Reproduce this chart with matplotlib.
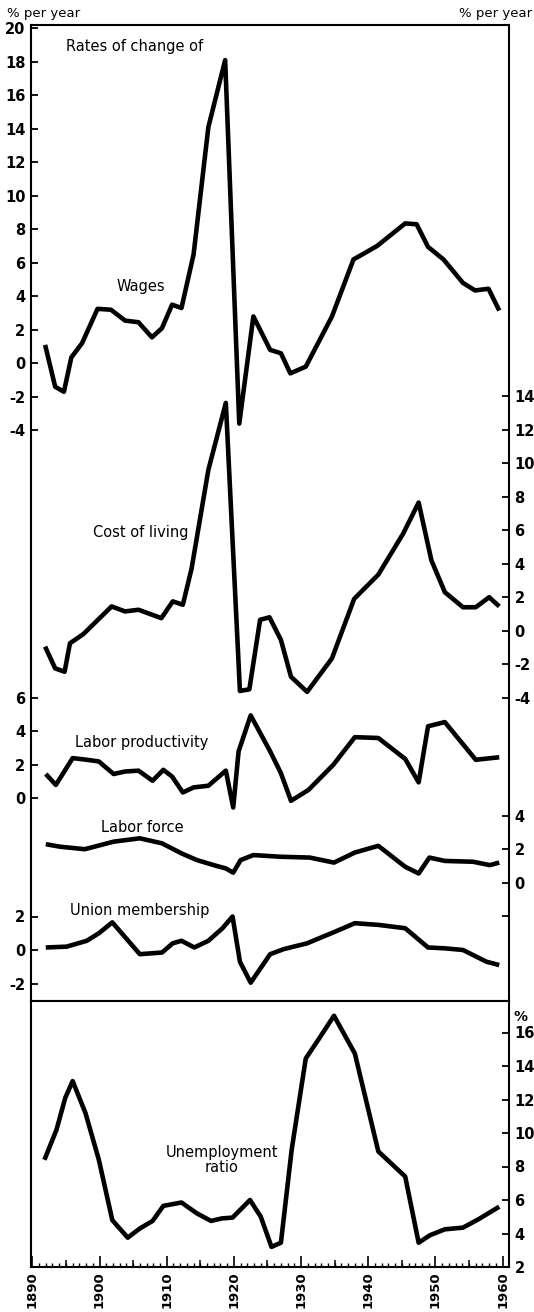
import matplotlib
matplotlib.use("Agg")
import matplotlib.pyplot as plt
from matplotlib.ticker import FixedLocator, MultipleLocator

plt.rcParams["font.family"] = ["DejaVu Sans"]
plt.rcParams["axes.unicode_minus"] = False

# ---------------------------------------------------------------- data
wage_years = [1891.9, 1893.4, 1894.7, 1895.8, 1897.4, 1899.7, 1901.7, 1903.8,
              1905.8, 1907.8, 1909.3, 1910.8, 1912.2, 1914.0, 1916.2, 1918.7,
              1920.8, 1922.9, 1925.4, 1927.0, 1928.4, 1930.7, 1934.6, 1937.8,
              1941.3, 1945.5, 1947.2, 1948.9, 1951.2, 1954.1, 1955.9, 1957.9,
              1959.5]
wage_vals = [1.1, -1.4, -1.7, 0.35, 1.2, 3.25, 3.2, 2.55, 2.45, 1.55, 2.1, 3.5,
             3.3, 6.5, 14.1, 18.1, -3.6, 2.8, 0.8, 0.6, -0.6, -0.2, 2.8, 6.2,
             7.0, 8.35, 8.3, 6.95, 6.2, 4.8, 4.35, 4.45, 3.15]

col_years = [1891.9, 1893.4, 1894.8, 1895.6, 1897.6, 1901.8, 1903.8, 1905.8,
             1909.2, 1910.9, 1912.4, 1913.7, 1916.2, 1918.8, 1920.9, 1922.3,
             1923.9, 1925.3, 1927.0, 1928.5, 1930.9, 1934.6, 1937.9, 1941.5,
             1945.2, 1947.5, 1949.4, 1951.4, 1954.1, 1956.0, 1958.0, 1959.5]
col_vals = [-0.95, -2.25, -2.45, -0.75, -0.2, 1.45, 1.15, 1.25, 0.75, 1.75,
            1.55, 3.7, 9.6, 13.6, -3.6, -3.5, 0.65, 0.8, -0.55, -2.75, -3.65,
            -1.65, 1.9, 3.35, 5.8, 7.65, 4.2, 2.3, 1.4, 1.4, 2.0, 1.45]

prod_years = [1892.0, 1893.5, 1896.0, 1898.1, 1899.9, 1902.1, 1903.8, 1905.8,
              1907.9, 1909.5, 1910.8, 1912.4, 1914.0, 1916.2, 1918.8, 1919.9,
              1920.7, 1922.5, 1925.4, 1927.0, 1928.5, 1931.1, 1934.8, 1938.0,
              1941.5, 1945.5, 1947.5, 1948.9, 1951.4, 1956.0, 1959.5]
prod_vals = [1.45, 0.8, 2.4, 2.3, 2.2, 1.45, 1.6, 1.65, 1.05, 1.7, 1.3, 0.35,
             0.65, 0.75, 1.65, -0.55, 2.8, 4.95, 2.8, 1.5, -0.15, 0.5, 2.0,
             3.65, 3.6, 2.35, 0.95, 4.3, 4.55, 2.3, 2.45]

force_years = [1892.0, 1894.1, 1897.8, 1902.1, 1906.0, 1909.3, 1912.2, 1914.5,
               1917.0, 1918.8, 1919.9, 1921.0, 1922.9, 1926.9, 1931.3, 1934.9,
               1938.0, 1941.5, 1945.5, 1947.5, 1949.1, 1951.4, 1955.6, 1958.1,
               1959.5]
force_vals = [2.3, 2.15, 2.0, 2.45, 2.65, 2.35, 1.75, 1.35, 1.05, 0.85, 0.6,
              1.35, 1.65, 1.55, 1.5, 1.2, 1.8, 2.2, 0.95, 0.55, 1.5, 1.3, 1.25,
              1.05, 1.2]

union_years = [1892.0, 1895.1, 1898.1, 1899.9, 1901.9, 1906.0, 1909.3, 1910.9,
               1912.2, 1914.1, 1916.2, 1918.3, 1919.8, 1920.9, 1922.5, 1925.4,
               1927.4, 1930.9, 1935.1, 1938.0, 1941.5, 1945.5, 1948.9, 1951.4,
               1954.1, 1957.6, 1959.5]
union_vals = [0.15, 0.2, 0.55, 1.0, 1.65, -0.25, -0.15, 0.4, 0.55, 0.15, 0.55,
              1.3, 2.0, -0.7, -1.95, -0.25, 0.05, 0.4, 1.1, 1.6, 1.5, 1.3, 0.15,
              0.1, 0.0, -0.7, -0.9]

unemp_years = [1891.8, 1893.6, 1894.9, 1896.0, 1897.9, 1899.9, 1901.9, 1904.2,
               1906.0, 1907.9, 1909.5, 1912.2, 1914.5, 1916.6, 1918.2, 1919.8,
               1922.4, 1924.0, 1925.6, 1927.0, 1928.6, 1930.7, 1932.7, 1934.9,
               1938.0, 1941.5, 1945.5, 1947.5, 1949.2, 1951.4, 1954.1, 1956.4,
               1959.5]
unemp_vals = [8.4, 10.2, 12.1, 13.1, 11.2, 8.4, 4.8, 3.75, 4.3, 4.75, 5.65,
              5.85, 5.2, 4.75, 4.9, 4.95, 6.0, 5.0, 3.2, 3.45, 9.0, 14.45,
              15.65, 17.0, 14.75, 8.9, 7.4, 3.45, 3.9, 4.25, 4.35, 4.85, 5.6]

# ---------------------------------------------------------------- layout (pixels)
W, H = 534, 1312
PX = 16.75            # pixels per percentage point, same in every panel
LEFT, RIGHT = 31, 509
TOP, MID, BOTTOM = 25, 1000.7, 1267
XLIM = (1889.8, 1960.95)

LW = 3.3
TICK = dict(direction="in", length=5, width=1.3, labelsize=10.5, pad=4)


def rect(top, bottom):
    return [LEFT / W, 1 - bottom / H, (RIGHT - LEFT) / W, (bottom - top) / H]


def lims(zero_px, zero_val=0.0):
    # y-limits so that zero_val lands on pixel row zero_px in the top panel
    return (zero_val - (MID - zero_px) / PX, zero_val + (zero_px - TOP) / PX)


fig = plt.figure(figsize=(W / 100, H / 100), dpi=100)
fig.patch.set_facecolor("white")

top_rect = rect(TOP, MID)


def overlay(side, ticks, ylim, years, vals, labels=True, frame=False):
    ax = fig.add_axes(top_rect, frameon=frame)
    ax.patch.set_alpha(0)
    ax.plot(years, vals, color="black", lw=LW,
            solid_joinstyle="round", solid_capstyle="butt")
    ax.set_xlim(*XLIM)
    ax.set_ylim(*ylim)
    ax.yaxis.set_major_locator(FixedLocator(ticks))
    if labels is not True:
        ax.set_yticklabels(labels)
    if side == "right":
        ax.yaxis.tick_right()
    else:
        ax.yaxis.tick_left()
    ax.tick_params(axis="y", **TICK)
    for lab in ax.get_yticklabels():
        lab.set_fontweight("bold")
    ax.tick_params(axis="x", which="both", bottom=False, top=False,
                   labelbottom=False)
    return ax


ax_w = overlay("left", list(range(-4, 21, 2)), lims(363.3),
               wage_years, wage_vals, frame=True)
for sp in ax_w.spines.values():
    sp.set_linewidth(1.5)
overlay("right", list(range(-4, 15, 2)), lims(630.7), col_years, col_vals)
overlay("left", [0, 2, 4, 6], lims(798.3), prod_years, prod_vals)
overlay("right", [-2, 0, 2, 4], lims(882.7), force_years, force_vals,
        labels=["", "0", "2", "4"])
overlay("left", [-2, 0, 2], lims(950.0), union_years, union_vals)

# ---------------------------------------------------------------- unemployment panel
ax_u = fig.add_axes(rect(MID, BOTTOM))
ax_u.plot(unemp_years, unemp_vals, color="black", lw=LW,
          solid_joinstyle="round", solid_capstyle="butt")
ax_u.set_xlim(*XLIM)
ax_u.set_ylim(2, 2 + (BOTTOM - MID) / PX)
for sp in ax_u.spines.values():
    sp.set_linewidth(1.5)
ax_u.yaxis.tick_right()
ax_u.yaxis.set_major_locator(FixedLocator(list(range(2, 17, 2))))
ax_u.tick_params(axis="y", **TICK)
for lab in ax_u.get_yticklabels():
    lab.set_fontweight("bold")

ax_u.xaxis.set_major_locator(MultipleLocator(10))
ax_u.xaxis.set_minor_locator(MultipleLocator(1))
ax_u.tick_params(axis="x", which="major", direction="in", length=8, width=1.2,
                 labelsize=9.5, pad=3, labelrotation=90)
ax_u.tick_params(axis="x", which="minor", direction="in", length=3, width=1.0)
for lab in ax_u.get_xticklabels():
    lab.set_fontweight("bold")

# half-decade ticks, medium length
sec = ax_u.secondary_xaxis("bottom")
sec.set_xticks([1895, 1905, 1915, 1925, 1935, 1945, 1955])
sec.tick_params(axis="x", direction="in", length=5, width=1.1,
                labelbottom=False)
sec.spines["bottom"].set_visible(False)


# ---------------------------------------------------------------- text
def put(x, y, s, **kw):
    kw.setdefault("ha", "center")
    kw.setdefault("va", "center")
    kw.setdefault("fontsize", 10.5)
    fig.text(x / W, 1 - y / H, s, **kw)


put(7, 13, "% per year", ha="left", fontsize=9.5)
put(532, 14, "% per year", ha="right", fontsize=9.5)
put(135, 46, "Rates of change of")
put(141, 287, "Wages")
put(141, 533, "Cost of living")
put(141.5, 743, "Labor productivity")
put(142, 827, "Labor force")
put(140, 911, "Union membership")
put(222, 1160, "Unemployment\nratio", linespacing=1.0)
put(521, 1017, "%", fontsize=10, fontweight="bold")

fig.savefig("out.png", dpi=100, facecolor="white")
